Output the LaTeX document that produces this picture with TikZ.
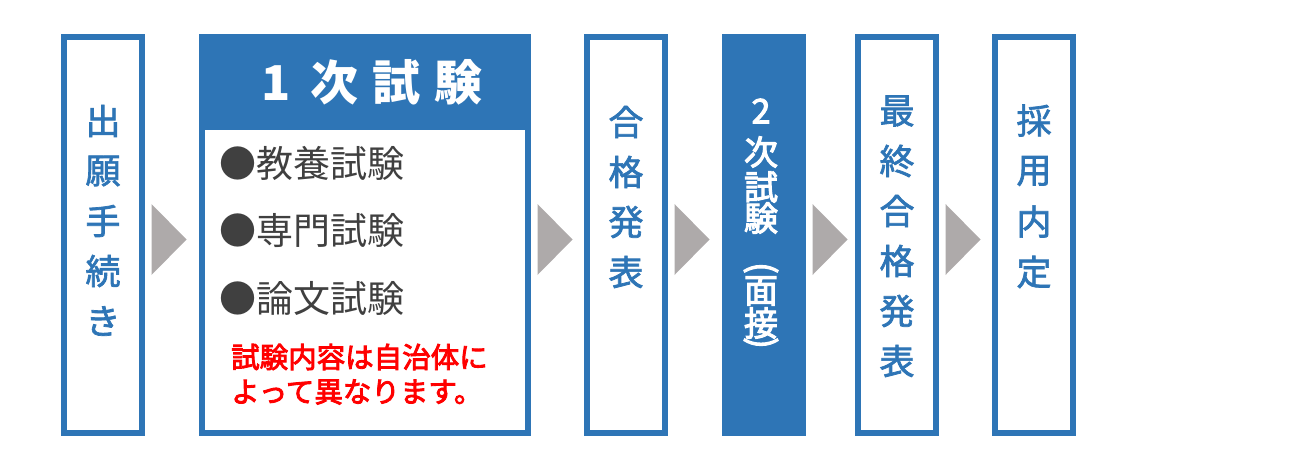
\documentclass[tikz,border=0pt]{standalone}
\usepackage{fontspec}
\setmainfont{Noto Sans CJK JP}
\newfontfamily\medfont[FakeBold=2]{Noto Sans CJK JP}
\newfontfamily\semifont[FakeBold=3]{Noto Sans CJK JP}
\usetikzlibrary{calc}
\definecolor{flowblue}{HTML}{2E75B6}
\definecolor{arrowgray}{HTML}{AEAAAA}
\definecolor{itemgray}{HTML}{404040}
\begin{document}
\begin{tikzpicture}[x=1pt, y=-1pt,
  stepbox/.style={draw=flowblue, line width=6pt, fill=white, inner sep=0pt, minimum width=78pt, minimum height=396pt},
  vchar/.style={text=flowblue, inner sep=0pt, font=\medfont\fontsize{35}{35}\selectfont},
  wchar/.style={text=white, inner sep=0pt, font=\semifont\fontsize{34}{34}\selectfont},
  item/.style={anchor=west, text=itemgray, inner sep=0pt, font=\fontsize{37}{37}\selectfont},
  note/.style={anchor=west, text=red, inner sep=0pt, font=\semifont\fontsize{28.5}{28.5}\selectfont}]
\def\steparrow{(0,0)--(35,35.5)--(0,71)--cycle}
\useasboundingbox (0,0) rectangle (1289,465);

\node[stepbox] (s1) at (103,235) {};
\node[stepbox, minimum width=326pt] (s2) at (365,235) {};
\node[stepbox] (s3) at (626,235) {};
\node[stepbox, fill=flowblue] (s4) at (764,235) {};
\node[stepbox] (s5) at (897,235) {};
\node[stepbox] (s6) at (1034,235) {};

\node[fill=flowblue, inner sep=0pt, minimum width=332pt, minimum height=96pt] (head) at (365,82) {};
\node[text=white, inner sep=0pt, font=\fontsize{48}{48}\selectfont\bfseries] (title) at (372,82) {1\hspace{20pt}次\hspace{14pt}試\hspace{14pt}験};

\foreach \a in {s1,s2,s3,s4,s5}
  \fill[arrowgray, shift={($(\a.east)+(6.5,-31)$)}] \steparrow;

\foreach \c [count=\i] in {出,願,手,続,き}
  \node[vchar] (c1-\i) at (103,71+50*\i) {\c};
\foreach \c [count=\i] in {合,格,発,表}
  \node[vchar] (c3-\i) at (626,72+50*\i) {\c};
\foreach \c/\y [count=\i] in {2/111,次/152,試/187,験/218,面/291,接/323}
  \node[wchar] (c4-\i) at (761,\y) {\c};
\node[wchar, rotate=-90] (c4-open) at (761,268) {(};
\node[wchar, rotate=-90] (c4-close) at (761,343) {)};
\foreach \c [count=\i] in {最,終,合,格,発,表}
  \node[vchar] (c5-\i) at (897,61+50*\i) {\c};
\foreach \c [count=\i] in {採,用,内,定}
  \node[vchar] (c6-\i) at (1034,70+50.5*\i) {\c};

\node[item] (i1) at (219,163) {●教養試験};
\node[item] (i2) at (219,231) {●専門試験};
\node[item] (i3) at (219,298) {●論文試験};
\node[note] (n1) at (231,357) {試験内容は自治体に};
\node[note] (n2) at (231,392) {よって異なります。};
\end{tikzpicture}
\end{document}
